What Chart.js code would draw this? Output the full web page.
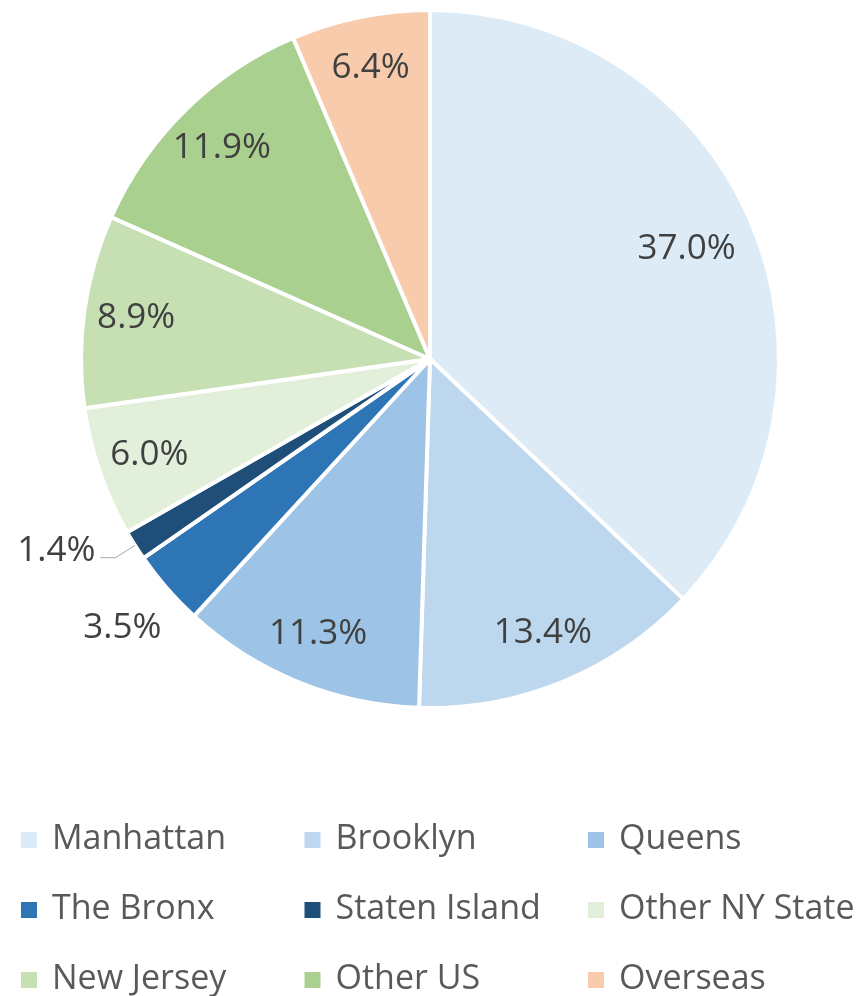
<!DOCTYPE html>
<html>
<head>
<meta charset="utf-8">
<script src="https://cdn.jsdelivr.net/npm/chart.js@4.4.1/dist/chart.umd.min.js"></script>
<style>
    html, body { margin: 0; padding: 0; background: #ffffff; }
    #wrap { width: 865px; height: 996px; position: relative; }
</style>
</head>
<body>
<div id="wrap"><canvas id="pie"></canvas></div>
<script>
    // Datos del gráfico
    const categories = ['Manhattan', 'Brooklyn', 'Queens', 'The Bronx', 'Staten Island',
        'Other NY State', 'New Jersey', 'Other US', 'Overseas'];
    const shares = [37.0, 13.4, 11.3, 3.5, 1.4, 6.0, 8.9, 11.9, 6.4];
    const sliceColors = ['#DDEBF7', '#BDD7EE', '#9DC3E6', '#2E75B6', '#1F4E79',
        '#E2EFDA', '#C6E0B4', '#A9D08E', '#F8CBAD'];

    const FONT = "'Open Sans', sans-serif";

    // Etiquetas de porcentaje sobre cada porción
    const sliceLabelPlugin = {
        id: 'sliceLabels',
        afterDatasetsDraw: function(chart) {
            const ctx = chart.ctx;
            const meta = chart.getDatasetMeta(0);
            ctx.save();
            ctx.font = '35px ' + FONT;
            ctx.fillStyle = '#404040';
            meta.data.forEach(function(arc, i) {
                const p = arc.getProps(['x', 'y', 'startAngle', 'endAngle', 'outerRadius'], true);
                const mid = (p.startAngle + p.endAngle) / 2;
                const R = p.outerRadius;
                const value = shares[i];
                const text = value.toFixed(1) + '%';
                if (value < 2) {
                    // porción muy pequeña: línea guía
                    const x0 = p.x + Math.cos(mid) * R;
                    const y0 = p.y + Math.sin(mid) * R;
                    const x1 = p.x + Math.cos(mid) * R * 1.066;
                    const y1 = p.y + Math.sin(mid) * R * 1.066;
                    ctx.strokeStyle = '#A6A6A6';
                    ctx.lineWidth = 1;
                    ctx.beginPath();
                    ctx.moveTo(x0, y0);
                    ctx.lineTo(x1, y1);
                    ctx.lineTo(x1 - 15, y1);
                    ctx.stroke();
                    ctx.textAlign = 'right';
                    ctx.textBaseline = 'alphabetic';
                    ctx.fillText(text, x1 - 20, y1 + 3);
                } else {
                    const r = value < 5 ? R * 1.17 : (value > 30 ? R * 0.8 : R * 0.85);
                    ctx.textAlign = 'center';
                    ctx.textBaseline = 'middle';
                    ctx.fillText(text, p.x + Math.cos(mid) * r, p.y + Math.sin(mid) * r);
                }
            });
            ctx.restore();
        }
    };

    // Leyenda en cuadrícula de 3 columnas
    const gridLegendPlugin = {
        id: 'gridLegend',
        afterDraw: function(chart) {
            const ctx = chart.ctx;
            ctx.save();
            ctx.font = '34px ' + FONT;
            ctx.textAlign = 'left';
            ctx.textBaseline = 'middle';
            categories.forEach(function(name, i) {
                const col = i % 3;
                const row = Math.floor(i / 3);
                const x = 21 + col * 283.5;
                const y = 840 + row * 70;
                ctx.fillStyle = sliceColors[i];
                ctx.fillRect(x, y - 8, 16, 16);
                ctx.fillStyle = '#595959';
                ctx.fillText(name, x + 31, y - 1);
            });
            ctx.restore();
        }
    };

    new Chart(document.getElementById('pie'), {
        type: 'pie',
        data: {
            labels: categories,
            datasets: [{
                data: shares,
                backgroundColor: sliceColors,
                borderColor: '#ffffff',
                borderWidth: 4
            }]
        },
        options: {
            responsive: true,
            maintainAspectRatio: false,
            animation: false,
            layout: {
                padding: { left: 79, right: 84, top: 8, bottom: 286 }
            },
            plugins: {
                legend: { display: false },
                tooltip: { enabled: false }
            }
        },
        plugins: [sliceLabelPlugin, gridLegendPlugin]
    });
</script>
</body>
</html>
